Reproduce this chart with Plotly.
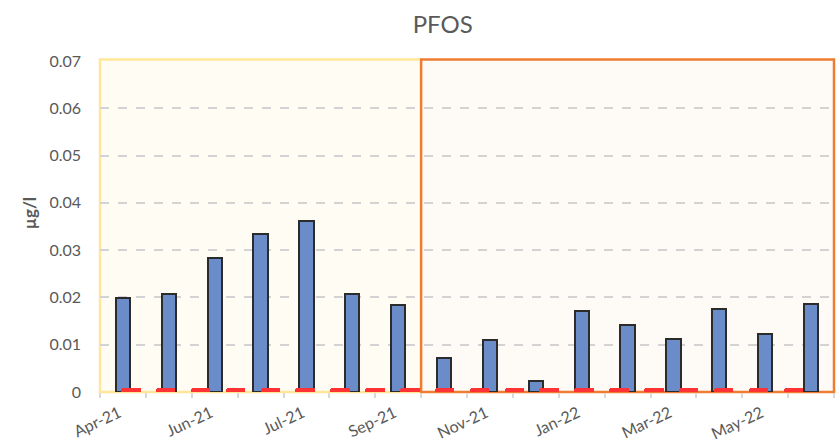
import plotly.graph_objects as go

# ---- data ----
tick_labels = ["Apr-21", "", "Jun-21", "", "Jul-21", "", "Sep-21", "", "Nov-21", "",
               "Jan-22", "", "Mar-22", "", "May-22", "", ""]
pfos_values = [0.0199, 0.0207, 0.0284, 0.0334, 0.0361, 0.0207, 0.0184,
               0.0072, 0.0110, 0.0024, 0.0172, 0.0142, 0.0112, 0.0175, 0.0123, 0.0186]
limit_values = [0.0009] * 20
period1_count = 7   # samples in first (yellow) period
period2_count = 9   # samples in second (orange) period

n = len(pfos_values)
xs = list(range(n))
x2s = list(range(len(limit_values)))

FONT = "Lato"
GREY = "#595959"

X_RANGE = [-0.5, n - 0.5]
Y_RANGE = [0, 0.07]


def xpaper(v):
    return (v - X_RANGE[0]) / (X_RANGE[1] - X_RANGE[0])


def ypaper(v):
    return (v - Y_RANGE[0]) / (Y_RANGE[1] - Y_RANGE[0])


fig = go.Figure()

fig.add_trace(go.Bar(
    x=xs, y=pfos_values, width=0.31,
    marker=dict(color="#6A8CC8", line=dict(color="#2B2B2B", width=2)),
    showlegend=False, hoverinfo="y",
))

fig.add_trace(go.Bar(
    x=x2s, y=limit_values, xaxis="x2", width=0.56,
    marker=dict(color="#FF3333", line=dict(width=0), cornerradius=2),
    showlegend=False, hoverinfo="y",
))

# shaded periods (paper coords derived from the axis scale so borders aren't clipped)
b1 = period1_count - 0.5
b2 = period1_count + period2_count - 0.5
top = ypaper(0.0703)
fig.add_shape(type="rect", xref="paper", yref="paper",
              x0=xpaper(-0.5), x1=xpaper(b1), y0=ypaper(0), y1=top,
              fillcolor="#FFFCF4", line=dict(color="#FFE699", width=2.5), layer="below")
fig.add_shape(type="rect", xref="paper", yref="paper",
              x0=xpaper(b1), x1=xpaper(b2), y0=ypaper(0), y1=top,
              fillcolor="#FEFAF6", line=dict(color="#ED7D31", width=2.5), layer="below")

fig.update_layout(
    width=840, height=443,
    margin=dict(l=100, r=6, t=61, b=51),
    paper_bgcolor="white", plot_bgcolor="white",
    font=dict(family=FONT, color=GREY, size=16),
    title=dict(text="PFOS", x=0.527, xref="container", xanchor="center",
               y=0.945, yref="container", yanchor="middle",
               font=dict(family=FONT, size=24, color=GREY)),
    bargap=0,
    xaxis=dict(
        range=X_RANGE, automargin=False,
        tickmode="array",
        tickvals=[i - 0.5 for i in range(len(tick_labels))],
        ticktext=tick_labels,
        tickangle=-25,
        ticks="outside", ticklen=5, tickcolor="#D9D9D9", tickwidth=1.5,
        showgrid=False, zeroline=False, showline=False,
        tickfont=dict(family=FONT, size=16, color=GREY),
        ticklabelshift=19,
    ),
    xaxis2=dict(
        overlaying="x", visible=False,
        range=[-0.883, 20.166],
    ),
    yaxis=dict(
        range=Y_RANGE, dtick=0.01, tick0=0, automargin=False,
        showgrid=True, gridcolor="#D3D3D3", griddash="dash", gridwidth=1.5,
        zeroline=False, showline=False, ticks="",
        tickfont=dict(family=FONT, size=16, color=GREY),
        ticklabelstandoff=18,
    ),
    annotations=[dict(
        text="<b>µg/l</b>", textangle=-90, xref="paper", yref="paper",
        x=(29 - 100) / 734, y=0.54, xanchor="center", yanchor="middle",
        showarrow=False, font=dict(family=FONT, size=17, color=GREY),
    )],
)

fig.write_html("out.html", config={"displayModeBar": False},
               post_script="document.body.style.margin='0';")
